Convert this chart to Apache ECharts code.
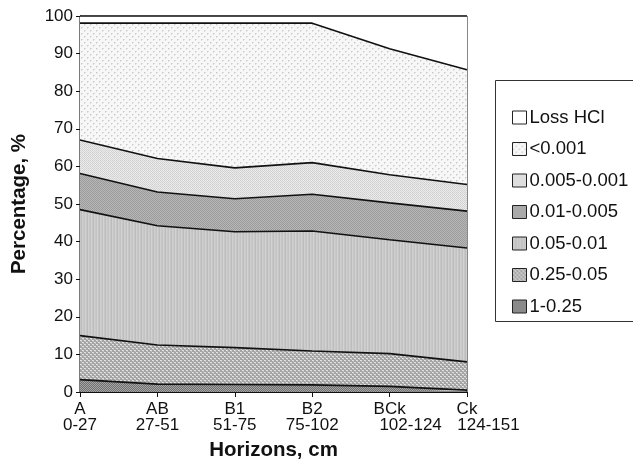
<!DOCTYPE html>
<html>
<head>
<meta charset="utf-8">
<script src="https://cdn.jsdelivr.net/npm/echarts@6/dist/echarts.min.js"></script>
<style>
  html, body { margin: 0; padding: 0; background: #fff; }
  #chart { width: 633px; height: 461px; }
</style>
</head>
<body>
<div id="chart"></div>
<script>
// Soil horizons and depth ranges
const horizons = ['A', 'AB', 'B1', 'B2', 'BCk', 'Ck'];
const depths = ['0-27', '27-51', '51-75', '75-102', '102-124', '124-151'];

// Particle-size fractions, % (stacked bottom to top)
const frac_1_025 = [3.3, 2.1, 2.0, 1.9, 1.5, 0.5];
const frac_025_005 = [11.7, 10.4, 9.8, 9.0, 8.7, 7.5];
const frac_005_001 = [33.5, 31.7, 30.8, 31.9, 30.3, 30.3];
const frac_001_0005 = [9.6, 9.0, 8.8, 9.8, 9.8, 9.8];
const frac_0005_0001 = [8.9, 8.9, 8.2, 8.4, 7.5, 7.1];
const frac_lt_0001 = [31.1, 36.0, 38.5, 37.1, 33.5, 30.5];
const lossHCl = [1.9, 1.9, 1.9, 1.9, 8.7, 14.3];

const seriesNames = ['1-0.25', '0.25-0.05', '0.05-0.01', '0.01-0.005', '0.005-0.001', '<0.001', 'Loss HCl'];
const seriesValues = [frac_1_025, frac_025_005, frac_005_001, frac_001_0005, frac_0005_0001, frac_lt_0001, lossHCl];

const yTicks = [0, 10, 20, 30, 40, 50, 60, 70, 80, 90, 100];

// Small canvas tiles used as fill textures
function tile(w, h, draw) {
  const c = document.createElement('canvas');
  c.width = w; c.height = h;
  const ctx = c.getContext('2d');
  draw(ctx);
  return { image: c, repeat: 'repeat' };
}
function px(ctx, x, y, col) { ctx.fillStyle = col; ctx.fillRect(x, y, 1, 1); }

const fills = [
  // 1-0.25: dark fine checker
  tile(4, 4, ctx => {
    for (let y = 0; y < 4; y++) for (let x = 0; x < 4; x++)
      px(ctx, x, y, (x + y) % 2 ? '#6f6f6f' : '#a6a6a6');
  }),
  // 0.25-0.05: grey with light specks
  tile(4, 4, ctx => {
    ctx.fillStyle = '#a4a4a4'; ctx.fillRect(0, 0, 4, 4);
    px(ctx, 0, 0, '#e8e8e8'); px(ctx, 1, 0, '#d8d8d8');
    px(ctx, 2, 2, '#e8e8e8'); px(ctx, 3, 2, '#d8d8d8');
    px(ctx, 1, 1, '#c4c4c4'); px(ctx, 3, 3, '#c4c4c4');
  }),
  // 0.05-0.01: light grey vertical lines
  tile(6, 2, ctx => {
    const cols = ['#c2c2c2', '#d2d2d2', '#c6c6c6', '#bdbdbd', '#cfcfcf', '#c8c8c8'];
    cols.forEach((c, i) => { ctx.fillStyle = c; ctx.fillRect(i, 0, 1, 2); });
  }),
  // 0.01-0.005: medium grey checker
  tile(2, 2, ctx => {
    px(ctx, 0, 0, '#9a9a9a'); px(ctx, 1, 1, '#9a9a9a');
    px(ctx, 1, 0, '#b8b8b8'); px(ctx, 0, 1, '#b8b8b8');
  }),
  // 0.005-0.001: light dotted
  tile(2, 2, ctx => {
    px(ctx, 0, 0, '#d0d0d0'); px(ctx, 1, 1, '#d6d6d6');
    px(ctx, 1, 0, '#eaeaea'); px(ctx, 0, 1, '#eaeaea');
  }),
  // <0.001: sparse dots on near-white
  tile(6, 6, ctx => {
    ctx.fillStyle = '#f7f7f7'; ctx.fillRect(0, 0, 6, 6);
    px(ctx, 0, 0, '#cccccc'); px(ctx, 1, 0, '#dddddd'); px(ctx, 0, 1, '#dddddd');
    px(ctx, 3, 3, '#cccccc'); px(ctx, 4, 3, '#dddddd'); px(ctx, 3, 4, '#dddddd');
  }),
  // Loss HCl: plain white
  '#ffffff'
];

const font = 'Arial, "Liberation Sans", Helvetica, sans-serif';

const series = seriesNames.map((name, i) => ({
  name: name,
  type: 'line',
  stack: 'total',
  data: seriesValues[i],
  symbol: 'none',
  smooth: false,
  lineStyle: { color: '#111', width: 1.6 },
  itemStyle: { color: i === 6 ? '#ffffff' : '#bbbbbb' },
  areaStyle: { color: fills[i], opacity: 1 },
  emphasis: { disabled: true },
  z: 2
}));

const legendOrder = seriesNames.slice().reverse();

const tickText = { fontFamily: font, fontSize: 17, color: '#111', lineHeight: 16.5 };

const chart = echarts.init(document.getElementById('chart'), null, { renderer: 'canvas' });
chart.setOption({
  animation: false,
  backgroundColor: '#ffffff',
  grid: {
    left: 80, top: 16, right: 166, bottom: 69,
    containLabel: false,
    outerBoundsMode: 'none',
    show: true, borderColor: '#111', borderWidth: 1, backgroundColor: 'transparent'
  },
  xAxis: {
    type: 'category',
    data: horizons,
    boundaryGap: false,
    name: 'Horizons, cm',
    nameLocation: 'middle',
    nameGap: 48,
    nameTextStyle: { fontFamily: font, fontSize: 20.5, fontWeight: 'bold', color: '#111' },
    axisLine: { lineStyle: { color: '#111', width: 1.2 } },
    axisTick: { inside: false, length: 5, lineStyle: { color: '#111' } },
    axisLabel: {
      interval: 0,
      margin: 9,
      hideOverlap: false,
      color: '#111',
      fontFamily: font,
      fontSize: 17,
      lineHeight: 16.5,
      formatter: (v, idx) => {
        const shift = idx === 4 ? 'b' : (idx === 5 ? 'c' : 'a');
        return '{a|' + v + '}\n{' + shift + '|' + depths[idx] + '}';
      },
      rich: {
        a: tickText,
        b: Object.assign({}, tickText, { padding: [0, 0, 0, 42] }),
        c: Object.assign({}, tickText, { padding: [0, 0, 0, 43] })
      }
    },
    splitLine: { show: false }
  },
  yAxis: {
    type: 'value',
    min: yTicks[0],
    max: yTicks[yTicks.length - 1],
    interval: 10,
    name: 'Percentage, %',
    nameLocation: 'middle',
    nameGap: 50,
    nameRotate: 90,
    nameTextStyle: { fontFamily: font, fontSize: 20.5, fontWeight: 'bold', color: '#111' },
    axisLine: { show: true, lineStyle: { color: '#111', width: 1.2 } },
    axisTick: { show: true, inside: false, length: 4, lineStyle: { color: '#111' } },
    axisLabel: { margin: 7, color: '#111', fontFamily: font, fontSize: 17 },
    splitLine: { show: false }
  },
  legend: {
    orient: 'vertical',
    left: 507,
    top: 103,
    itemWidth: 14,
    itemHeight: 13,
    itemGap: 12.5,
    icon: 'rect',
    selectedMode: false,
    textStyle: { fontFamily: font, fontSize: 18.5, lineHeight: 18, color: '#111', padding: [0, 0, 0, -2] },
    data: legendOrder.map(n => {
      const i = seriesNames.indexOf(n);
      return { name: n, itemStyle: { color: fills[i], borderColor: '#222', borderWidth: 1 } };
    })
  },
  graphic: [{
    type: 'rect',
    shape: { x: 495.5, y: 80.5, width: 150, height: 241 },
    style: { fill: 'none', stroke: '#333', lineWidth: 1 },
    z: 10
  }],
  series: series
});
</script>
</body>
</html>
